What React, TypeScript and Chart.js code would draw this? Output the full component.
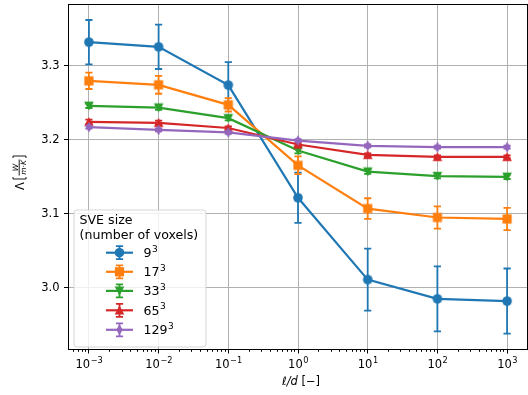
import React, { useEffect, useRef } from 'react';
import { Chart, registerables } from 'chart.js';

Chart.register(...registerables);

// ---- data ----
const lengthRatios = [1e-3, 1e-2, 1e-1, 1, 10, 100, 1000];
const xTickExponents = [-3, -2, -1, 0, 1, 2, 3];
const yTickValues = [3.0, 3.1, 3.2, 3.3];
const sveSizes = ['9', '17', '33', '65', '129'];

const lambda9 = [3.332, 3.3257, 3.274, 3.1216, 3.011, 2.985, 2.982];
const err9 = [0.030, 0.030, 0.031, 0.034, 0.042, 0.044, 0.044];
const lambda17 = [3.2797, 3.2743, 3.2473, 3.1655, 3.107, 3.095, 3.093];
const err17 = [0.011, 0.012, 0.009, 0.012, 0.014, 0.015, 0.015];
const lambda33 = [3.246, 3.2436, 3.2293, 3.1856, 3.157, 3.151, 3.150];
const err33 = [0.003, 0.003, 0.003, 0.004, 0.003, 0.003, 0.003];
const lambda65 = [3.2243, 3.223, 3.216, 3.1937, 3.1797, 3.177, 3.177];
const err65 = [0.003, 0.003, 0.002, 0.002, 0.002, 0.002, 0.002];
const lambda129 = [3.2172, 3.2135, 3.21, 3.199, 3.1919, 3.19, 3.19];
const err129 = [0.002, 0.002, 0.002, 0.002, 0.002, 0.002, 0.002];

const seriesValues = [lambda9, lambda17, lambda33, lambda65, lambda129];
const seriesErrors = [err9, err17, err33, err65, err129];

const colors = ['#1f77b4', '#ff7f0e', '#2ca02c', '#d62728', '#9467bd'];
const markerKinds = ['circle', 'square', 'tridown', 'triup', 'thindiamond'];
const FONT = '"DejaVu Sans", sans-serif';

function traceMarker(ctx: CanvasRenderingContext2D, kind: string, cx: number, cy: number) {
  ctx.beginPath();
  if (kind === 'circle') {
    ctx.arc(cx, cy, 4.8, 0, Math.PI * 2);
  } else if (kind === 'square') {
    ctx.rect(cx - 4.6, cy - 4.6, 9.2, 9.2);
  } else if (kind === 'tridown') {
    ctx.moveTo(cx - 4.8, cy - 4.3);
    ctx.lineTo(cx + 4.8, cy - 4.3);
    ctx.lineTo(cx, cy + 4.8);
    ctx.closePath();
  } else if (kind === 'triup') {
    ctx.moveTo(cx - 4.8, cy + 4.3);
    ctx.lineTo(cx + 4.8, cy + 4.3);
    ctx.lineTo(cx, cy - 4.8);
    ctx.closePath();
  } else {
    ctx.moveTo(cx, cy - 5.2);
    ctx.lineTo(cx + 3.3, cy);
    ctx.lineTo(cx, cy + 5.2);
    ctx.lineTo(cx - 3.3, cy);
    ctx.closePath();
  }
}

function makeMarker(kind: string, color: string): HTMLCanvasElement {
  const c = document.createElement('canvas');
  c.width = 14;
  c.height = 14;
  const ctx = c.getContext('2d')!;
  traceMarker(ctx, kind, 7, 7);
  ctx.fillStyle = color;
  ctx.fill();
  return c;
}

function drawErrorBar(ctx: CanvasRenderingContext2D, x: number, yTop: number, yBot: number, color: string) {
  ctx.save();
  ctx.strokeStyle = color;
  ctx.lineWidth = 1.8;
  ctx.beginPath();
  ctx.moveTo(x, yTop);
  ctx.lineTo(x, yBot);
  ctx.moveTo(x - 3.6, yTop);
  ctx.lineTo(x + 3.6, yTop);
  ctx.moveTo(x - 3.6, yBot);
  ctx.lineTo(x + 3.6, yBot);
  ctx.stroke();
  ctx.restore();
}

const align = (p: number) => Math.round(p - 0.5) + 0.5;

const errorBarPlugin = {
  id: 'errorBars',
  afterDatasetDraw(chart: any, args: any) {
    const i = args.index;
    const errs = seriesErrors[i];
    const vals = seriesValues[i];
    const ctx = chart.ctx;
    const ys = chart.scales.y;
    args.meta.data.forEach((el: any, j: number) => {
      const yTop = ys.getPixelForValue(vals[j] + errs[j]);
      const yBot = ys.getPixelForValue(vals[j] - errs[j]);
      drawErrorBar(ctx, el.x, yTop, yBot, colors[i]);
    });
  },
};

const decorPlugin = {
  id: 'decor',
  afterDraw(chart: any) {
    const ctx: CanvasRenderingContext2D = chart.ctx;
    const area = chart.chartArea;
    const xs = chart.scales.x;
    const ys = chart.scales.y;
    ctx.save();

    // spines
    ctx.strokeStyle = '#000';
    ctx.lineWidth = 1;
    ctx.strokeRect(align(area.left), align(area.top), align(area.right - 1) - align(area.left), align(area.bottom) - align(area.top));

    // y ticks + labels
    ctx.fillStyle = '#000';
    ctx.font = `11.5px ${FONT}`;
    ctx.textAlign = 'right';
    ctx.textBaseline = 'middle';
    yTickValues.forEach((v) => {
      const py = align(ys.getPixelForValue(v));
      ctx.beginPath();
      ctx.moveTo(area.left - 4, py);
      ctx.lineTo(area.left, py);
      ctx.stroke();
      ctx.fillText(v.toFixed(1), area.left - 8.5, py + 0.5);
    });

    // x ticks (major + minor) + labels
    const bottom = align(area.bottom);
    xTickExponents.forEach((e) => {
      const px = align(xs.getPixelForValue(Math.pow(10, e)));
      ctx.beginPath();
      ctx.moveTo(px, bottom);
      ctx.lineTo(px, bottom + 4);
      ctx.stroke();
    });
    for (let e = -4; e <= 3; e++) {
      for (let k = 2; k <= 9; k++) {
        const v = k * Math.pow(10, e);
        if (v < xs.min || v > xs.max) continue;
        const px = align(xs.getPixelForValue(v));
        ctx.beginPath();
        ctx.moveTo(px, bottom);
        ctx.lineTo(px, bottom + 2.3);
        ctx.stroke();
      }
    }
    ctx.textBaseline = 'alphabetic';
    ctx.textAlign = 'left';
    xTickExponents.forEach((e) => {
      const px = xs.getPixelForValue(Math.pow(10, e));
      const base = '10';
      const exp = e < 0 ? '\u2212' + Math.abs(e) : String(e);
      ctx.font = `11.5px ${FONT}`;
      const wb = ctx.measureText(base).width;
      ctx.font = `8.2px ${FONT}`;
      const we = ctx.measureText(exp).width;
      const start = px - (wb + we) / 2;
      ctx.font = `11.5px ${FONT}`;
      ctx.fillText(base, start, 368);
      ctx.font = `8.2px ${FONT}`;
      ctx.fillText(exp, start + wb + 0.5, 363);
    });

    // x label
    ctx.textBaseline = 'middle';
    ctx.font = `oblique 11.5px ${FONT}`;
    const p1 = '\u2113/d';
    const w1 = ctx.measureText(p1).width;
    ctx.font = `11.5px ${FONT}`;
    const p2 = ' [\u2212]';
    const w2 = ctx.measureText(p2).width;
    const xStart = (area.left + area.right) / 2 + 3 - (w1 + w2) / 2;
    ctx.font = `oblique 11.5px ${FONT}`;
    ctx.fillText(p1, xStart, 382);
    ctx.font = `11.5px ${FONT}`;
    ctx.fillText(p2, xStart + w1, 382);

    // y label: Λ [W / m·K]
    ctx.save();
    ctx.translate(19.5, 173);
    ctx.rotate(-Math.PI / 2);
    ctx.font = `11.5px ${FONT}`;
    ctx.textAlign = 'center';
    ctx.textBaseline = 'middle';
    ctx.fillText('\u039b', -13, 1.5);
    ctx.lineWidth = 0.9;
    ctx.beginPath();
    ctx.moveTo(-4, -6.5);
    ctx.lineTo(-6, -6.5);
    ctx.lineTo(-6, 6.5);
    ctx.lineTo(-4, 6.5);
    ctx.moveTo(15, -6.5);
    ctx.lineTo(17, -6.5);
    ctx.lineTo(17, 6.5);
    ctx.lineTo(15, 6.5);
    ctx.stroke();
    ctx.beginPath();
    ctx.moveTo(-2.5, -0.3);
    ctx.lineTo(13.5, -0.3);
    ctx.stroke();
    ctx.font = `italic 7.5px ${FONT}`;
    ctx.textBaseline = 'alphabetic';
    ctx.fillText('W', 5.5, -1.8);
    ctx.fillText('m\u00b7K', 5.5, 6.5);
    ctx.restore();

    // legend
    const lx = 74, ly = 210, lw = 132, lh = 137;
    ctx.beginPath();
    const r = 3;
    ctx.moveTo(lx + r, ly);
    ctx.lineTo(lx + lw - r, ly);
    ctx.arcTo(lx + lw, ly, lx + lw, ly + r, r);
    ctx.lineTo(lx + lw, ly + lh - r);
    ctx.arcTo(lx + lw, ly + lh, lx + lw - r, ly + lh, r);
    ctx.lineTo(lx + r, ly + lh);
    ctx.arcTo(lx, ly + lh, lx, ly + lh - r, r);
    ctx.lineTo(lx, ly + r);
    ctx.arcTo(lx, ly, lx + r, ly, r);
    ctx.closePath();
    ctx.fillStyle = 'rgba(255,255,255,0.8)';
    ctx.fill();
    ctx.strokeStyle = 'rgba(204,204,204,0.8)';
    ctx.lineWidth = 1;
    ctx.stroke();

    ctx.fillStyle = '#000';
    ctx.textAlign = 'left';
    ctx.textBaseline = 'middle';
    ctx.font = `12.6px ${FONT}`;
    ctx.fillText('SVE size', 79.5, 221);
    ctx.fillText('(number of voxels)', 79.5, 235.5);

    const entryY = [252.7, 271.8, 290.9, 310.3, 329.8];
    sveSizes.forEach((s, i) => {
      const y = entryY[i];
      const c = colors[i];
      ctx.strokeStyle = c;
      ctx.lineWidth = 2.2;
      ctx.beginPath();
      ctx.moveTo(106, y);
      ctx.lineTo(133, y);
      ctx.stroke();
      drawErrorBar(ctx, 119.5, y - 6.5, y + 6.5, c);
      traceMarker(ctx, markerKinds[i], 119.5, y);
      ctx.fillStyle = c;
      ctx.fill();
      ctx.fillStyle = '#000';
      ctx.font = `12.6px ${FONT}`;
      ctx.textBaseline = 'middle';
      ctx.fillText(s, 143.5, y + 1);
      const w = ctx.measureText(s).width;
      ctx.font = `9px ${FONT}`;
      ctx.fillText('3', 143.5 + w + 0.5, y - 3.5);
    });

    ctx.restore();
  },
};

export default function App() {
  const ref = useRef<HTMLCanvasElement | null>(null);

  useEffect(() => {
    document.body.style.margin = '0';
    const canvas = ref.current!;
    const datasets = seriesValues.map((vals, i) => ({
      label: sveSizes[i] + '\u00b3',
      data: lengthRatios.map((x, j) => ({ x, y: vals[j] })),
      borderColor: colors[i],
      backgroundColor: colors[i],
      borderWidth: 2.2,
      pointStyle: makeMarker(markerKinds[i], colors[i]),
      pointRadius: 5,
      showLine: true,
      tension: 0,
      order: 5 - i,
    }));

    const chart = new Chart(canvas, {
      type: 'line',
      data: { datasets },
      options: {
        responsive: false,
        animation: false,
        events: [],
        layout: { autoPadding: false, padding: { top: 4, left: 0, right: 0, bottom: 0 } },
        plugins: {
          legend: { display: false },
          tooltip: { enabled: false },
          title: { display: false },
        },
        scales: {
          x: {
            type: 'logarithmic',
            min: Math.pow(10, -3.3),
            max: Math.pow(10, 3.3),
            afterBuildTicks: (s: any) => {
              s.ticks = xTickExponents.map((e) => ({ value: Math.pow(10, e) }));
            },
            afterFit: (s: any) => {
              s.height = 46;
            },
            ticks: { display: false },
            grid: { color: '#b0b0b0', lineWidth: 1, drawTicks: false },
            border: { display: false },
          },
          y: {
            type: 'linear',
            min: 2.9172,
            max: 3.3836,
            afterBuildTicks: (s: any) => {
              s.ticks = yTickValues.map((v) => ({ value: v }));
            },
            afterFit: (s: any) => {
              s.width = 68;
            },
            ticks: { display: false },
            grid: { color: '#b0b0b0', lineWidth: 1, drawTicks: false },
            border: { display: false },
          },
        },
      } as any,
      plugins: [errorBarPlugin, decorPlugin],
    });

    return () => chart.destroy();
  }, []);

  return (
    <div style={{ width: 528, height: 395 }}>
      <canvas ref={ref} width={528} height={395} style={{ display: 'block' }} />
    </div>
  );
}
